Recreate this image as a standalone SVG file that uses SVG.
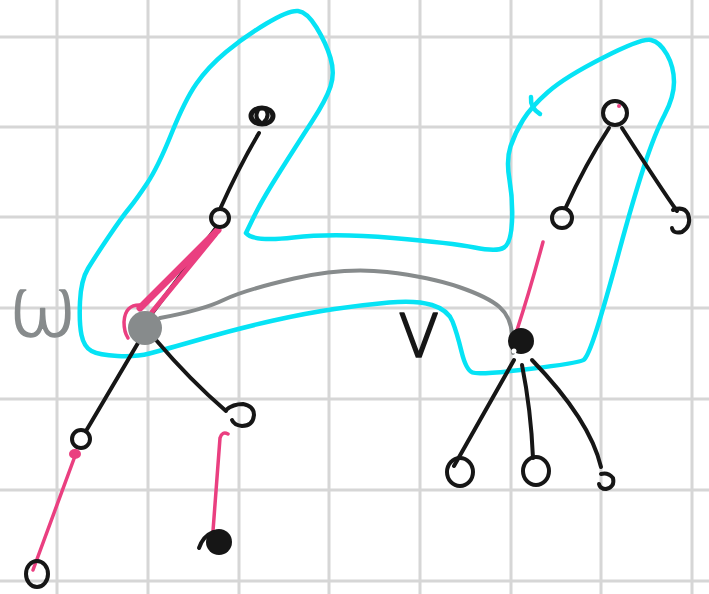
<svg xmlns="http://www.w3.org/2000/svg" width="709" height="594" viewBox="0 0 709 594">
<style>
.grid line{stroke:#d6d6d6;stroke-width:3}
.blk{fill:none;stroke:#161616;stroke-width:4;stroke-linecap:round;stroke-linejoin:round}
.pnk{fill:none;stroke:#ea3f80;stroke-width:3.5;stroke-linecap:round;stroke-linejoin:round}
.cyan{fill:none;stroke:#06e3f5;stroke-width:4.5;stroke-linecap:round;stroke-linejoin:round}
.gry{fill:none;stroke:#878b8c;stroke-width:4;stroke-linecap:round;stroke-linejoin:round}
.lbl{font-family:"DejaVu Sans",sans-serif;font-weight:200;stroke-width:1.6;stroke-linejoin:round}
</style>
<rect width="709" height="594" fill="#ffffff"/>
<g class="grid">
<line x1="57" y1="0" x2="57" y2="594"/><line x1="148" y1="0" x2="148" y2="594"/><line x1="239" y1="0" x2="239" y2="594"/><line x1="329" y1="0" x2="329" y2="594"/><line x1="420" y1="0" x2="420" y2="594"/><line x1="511" y1="0" x2="511" y2="594"/><line x1="601" y1="0" x2="601" y2="594"/><line x1="692" y1="0" x2="692" y2="594"/>
<line x1="0" y1="37" x2="709" y2="37"/><line x1="0" y1="127" x2="709" y2="127"/><line x1="0" y1="217" x2="709" y2="217"/><line x1="0" y1="308" x2="709" y2="308"/><line x1="0" y1="399" x2="709" y2="399"/><line x1="0" y1="490" x2="709" y2="490"/><line x1="0" y1="581" x2="709" y2="581"/>
</g>
<g id="cyan-loop">
<path class="cyan" d="M246,233 Q253,242 293.5,237.5 Q334,233 393,238 Q452,243 474.5,247.5 Q497,252 504,247.5 Q511,243 512,221.5 Q513,200 509.5,180 Q506,160 510.5,146.5 Q515,133 523,120 Q531,107 548,92 Q565,77 603.5,57.5 Q642,38 651,40 Q660,42 667,54.5 Q674,67 674,82 Q674,97 664.5,115 Q655,133 644,166.5 Q633,200 619.5,250 Q606,300 597,328.5 Q588,357 583.5,360 Q579,363 529,369 Q479,375 472.5,372.5 Q466,370 461.5,351.5 Q457,333 452.5,321.5 Q448,310 432,305 Q416,300 389,302.5 Q362,305 334.5,309 Q307,313 273.5,320.5 Q240,328 201.5,339 Q163,350 149.5,353.5 Q136,357 117.5,356 Q99,355 91.5,351 Q84,347 81.5,335 Q79,323 80,301.5 Q81,280 88,268.5 Q95,257 108.5,237 Q122,217 129,208.5 Q136,200 147,183.5 Q158,167 171.5,133.5 Q185,100 196.5,83.5 Q208,67 226,52 Q244,37 266.5,23.5 Q289,10 298,11 Q307,12 316.5,27.5 Q326,43 330.5,58 Q335,73 330.5,86.5 Q326,100 312,121.5 Q298,143 280,171.5 Q262,200 254,216.5 L246,233"/>
<path class="cyan" d="M531,97 Q530,108 540,114"/>
</g>
<g id="connectors">
<path class="blk" d="M259,133 Q240,165 221,207"/>
<path class="blk" d="M216,228 L150,316"/>
<path class="pnk" style="stroke-width:7" d="M218,230 L140,308"/>
<path class="pnk" style="stroke-width:5" d="M215,235 L152,312"/>
<path class="pnk" d="M141,305 Q125,304 124,322 Q124,332 128,338"/>
<path class="blk" d="M138,343 Q110,390 86,431"/>
<path class="pnk" d="M75,456 L33,570"/>
<path class="blk" d="M156,340 Q190,380 226,411"/>
<path class="pnk" d="M228,434 Q222,431 220,438 L213,531"/>
<path class="blk" d="M609,128 Q585,165 566,207"/>
<path class="blk" d="M622,128 Q662,190 677,211"/>
<path class="pnk" d="M543,242 Q530,290 517,330"/>
<path class="blk" d="M514,360 Q480,420 454,466"/>
<path class="blk" d="M522,365 Q531,410 533,458"/>
<path class="blk" d="M532,360 Q590,420 601,467"/>
<path class="gry" d="M160,318 Q203,310 223.5,300 Q244,290 294,278.5 Q344,267 387,272 Q430,277 459,287 Q488,297 499.5,307 Q511,317 512,335 L513,353"/>
</g>
<g id="node-a">
<ellipse cx="262" cy="116" rx="11" ry="8" class="blk" style="stroke-width:5"/>
<path class="blk" d="M258,110 Q254,118 260,122 M266,110 Q270,116 264,122"/>
</g>
<g id="node-b"><circle cx="220" cy="218" r="9" class="blk"/></g>
<g id="node-w"><circle cx="145" cy="328" r="17" fill="#878b8c"/></g>
<g id="node-c"><circle cx="81" cy="439" r="9" class="blk"/><ellipse cx="75" cy="454" rx="6" ry="5" fill="#ea3f80"/></g>
<g id="node-d"><ellipse cx="37" cy="574" rx="11" ry="13" class="blk"/></g>
<g id="node-e"><path class="blk" d="M226,410 Q233,404 243,404 Q254,406 254,415 Q253,426 242,426 Q234,425 232,420"/></g>
<g id="node-f"><circle cx="219" cy="542" r="13" fill="#161616"/><path class="blk" d="M199,548 Q203,536 213,532"/></g>
<g id="node-g"><circle cx="615" cy="113" r="12" class="blk"/><circle cx="619" cy="106" r="2" fill="#ea3f80"/></g>
<g id="node-h"><circle cx="562" cy="218" r="10" class="blk"/></g>
<g id="node-i"><path class="blk" d="M673,210 Q684,206 688,214 Q692,226 682,232 Q673,234 672,228"/></g>
<g id="node-v"><circle cx="521" cy="341" r="13" fill="#161616"/><circle cx="514" cy="351" r="2.5" fill="#ffffff"/></g>
<g id="node-j"><ellipse cx="460" cy="472" rx="13" ry="14" class="blk"/></g>
<g id="node-k"><ellipse cx="536" cy="471" rx="13" ry="14" class="blk"/></g>
<g id="node-l"><path class="blk" d="M601,474 Q608,472 613,478 Q615,487 606,489 Q600,489 599,484"/></g>
<text class="lbl" x="8" y="336" font-size="84" fill="#878b8c" stroke="#878b8c">ω</text>
<text class="lbl" x="395" y="357" font-size="80" fill="#161616" stroke="#161616">v</text>
</svg>
